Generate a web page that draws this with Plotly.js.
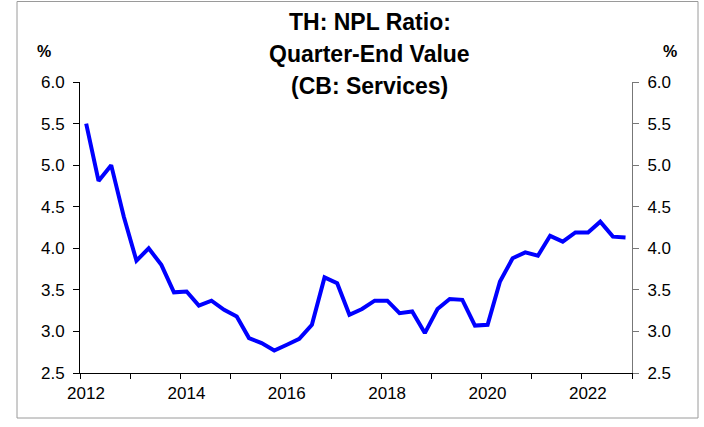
<!DOCTYPE html>
<html>
<head>
<meta charset="utf-8">
<script src="https://cdn.plot.ly/plotly-3.0.1.min.js"></script>
<style>html,body{margin:0;padding:0;background:#fff;}#chart{width:704px;height:427px;}</style>
</head>
<body>
<div id="chart"></div>
<script>
// Quarter (mid-quarter date), 2012Q1 .. 2022Q4
const quarters = [
  '2012-02-15','2012-05-15','2012-08-15','2012-11-15',
  '2013-02-15','2013-05-15','2013-08-15','2013-11-15',
  '2014-02-15','2014-05-15','2014-08-15','2014-11-15',
  '2015-02-15','2015-05-15','2015-08-15','2015-11-15',
  '2016-02-15','2016-05-15','2016-08-15','2016-11-15',
  '2017-02-15','2017-05-15','2017-08-15','2017-11-15',
  '2018-02-15','2018-05-15','2018-08-15','2018-11-15',
  '2019-02-15','2019-05-15','2019-08-15','2019-11-15',
  '2020-02-15','2020-05-15','2020-08-15','2020-11-15',
  '2021-02-15','2021-05-15','2021-08-15','2021-11-15',
  '2022-02-15','2022-05-15','2022-08-15','2022-11-15'
];
// NPL ratio, CB: Services (%)
const nplServices = [
  5.50, 4.81, 5.00, 4.38,
  3.85, 4.00, 3.80, 3.47,
  3.48, 3.31, 3.37, 3.26,
  3.18, 2.92, 2.86, 2.77,
  2.84, 2.91, 3.08, 3.65,
  3.58, 3.20, 3.27, 3.37,
  3.37, 3.22, 3.24, 2.98,
  3.27, 3.39, 3.38, 3.07,
  3.08, 3.60, 3.88, 3.95,
  3.91, 4.15, 4.08, 4.19,
  4.19, 4.32, 4.14, 4.13
];
const titleLines = ['TH: NPL Ratio:', 'Quarter-End Value', '(CB: Services)'];
const yUnit = '%';
const yRange = [2.5, 6.0];
const xRange = ['2012-01-01', '2023-01-01'];

const FONT = 'Liberation Sans, Arial, sans-serif';

const traces = [
  {x: quarters, y: nplServices, type: 'scatter', mode: 'lines',
   line: {color: '#0000FF', width: 4}, hoverinfo: 'x+y', yaxis: 'y'},
  {x: quarters, y: nplServices, type: 'scatter', mode: 'lines',
   line: {width: 0}, opacity: 0, hoverinfo: 'skip', yaxis: 'y2', showlegend: false}
];

const yCommon = {
  range: yRange, dtick: 0.5, tick0: 2.5, tickformat: '.1f',
  ticks: 'outside', ticklen: 6, tickwidth: 1, ticklabelstandoff: 5,
  showgrid: false, zeroline: false, showline: true, linewidth: 1,
  tickfont: {family: FONT, size: 17, color: '#000'}, fixedrange: true
};

const annotations = titleLines.map((t, i) => ({
  text: '<b>' + t + '</b>', xref: 'paper', yref: 'paper',
  x: 0.525, y: (373 - (22 + i * 32)) / 291, xanchor: 'center', yanchor: 'middle',
  showarrow: false, font: {family: FONT, size: 23, color: '#000'}
}));
annotations.push({text: '<b>' + yUnit + '</b>', xref: 'paper', yref: 'paper',
  x: (44 - 80) / 552, y: (373 - 52) / 291, xanchor: 'center', yanchor: 'middle',
  showarrow: false, font: {family: FONT, size: 16, color: '#000'}});
annotations.push({text: '<b>' + yUnit + '</b>', xref: 'paper', yref: 'paper',
  x: (670 - 80) / 552, y: (373 - 52) / 291, xanchor: 'center', yanchor: 'middle',
  showarrow: false, font: {family: FONT, size: 16, color: '#000'}});

const layout = {
  width: 704, height: 427,
  margin: {l: 80, r: 72, t: 82, b: 54, pad: 0},
  paper_bgcolor: '#fff', plot_bgcolor: '#fff',
  showlegend: false,
  xaxis: {
    type: 'date', range: xRange, tick0: '2012-01-01', dtick: 'M24', tickformat: '%Y',
    ticks: 'outside', ticklen: 5, tickcolor: '#000', showgrid: false, zeroline: false,
    showline: true, linecolor: '#000', linewidth: 1, ticklabelshift: 6,
    minor: {dtick: 'M12', ticks: 'outside', ticklen: 5, tickcolor: '#000', showgrid: false},
    tickfont: {family: FONT, size: 17, color: '#000'}, fixedrange: true
  },
  yaxis: Object.assign({}, yCommon, {side: 'left', linecolor: '#000', tickcolor: '#000'}),
  yaxis2: Object.assign({}, yCommon, {side: 'right', overlaying: 'y', linecolor: '#777', tickcolor: '#777'}),
  annotations: annotations,
  shapes: [{type: 'rect', xref: 'paper', yref: 'paper',
    x0: (17 - 80) / 552, x1: (698 - 80) / 552, y0: (373 - 418) / 291, y1: (373 - 1.5) / 291,
    line: {color: '#9a9a9a', width: 1}, fillcolor: 'rgba(0,0,0,0)', layer: 'below'}]
};

Plotly.newPlot('chart', traces, layout, {staticPlot: true, displayModeBar: false});
</script>
</body>
</html>
